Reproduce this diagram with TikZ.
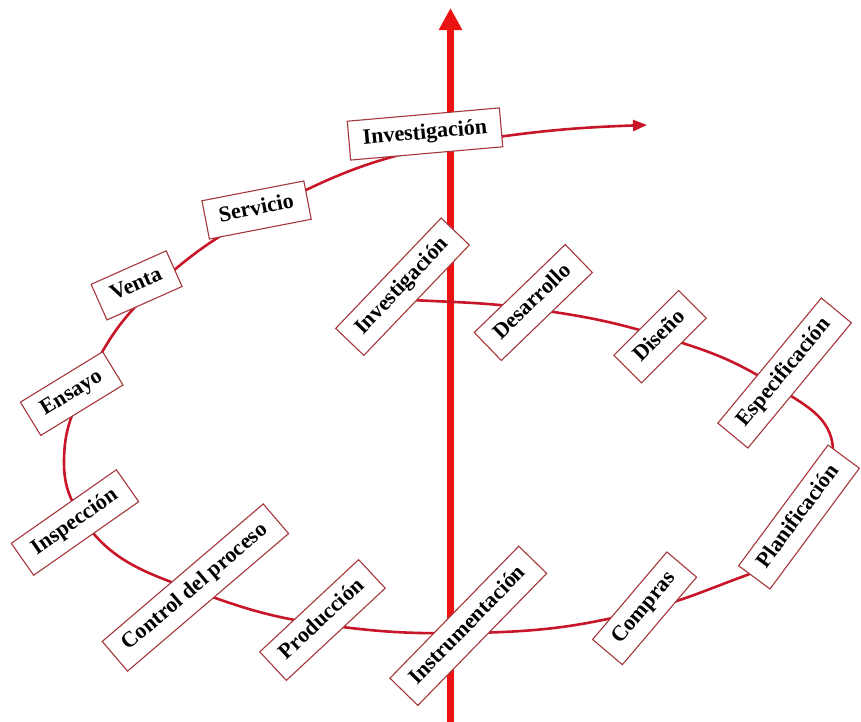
\documentclass[tikz,border=0pt]{standalone}
\usepackage{fontspec}
\setmainfont{Liberation Serif}
\usetikzlibrary{arrows.meta}
\definecolor{axisred}{RGB}{235,18,18}
\definecolor{spiralred}{RGB}{200,22,40}
\definecolor{boxred}{RGB}{165,55,60}
\begin{document}
\begin{tikzpicture}[x=1pt,y=1pt,
  stage/.style={draw=boxred, line width=1.1pt, fill=white, text=black,
    font=\fontsize{22}{24}\selectfont\bfseries, inner xsep=14pt, inner ysep=0pt,
    minimum height=39pt, text height=15pt, text depth=5pt},
  spiral/.style={draw=spiralred, line width=2.6pt},
  axisline/.style={draw=axisred, line width=7.5pt}]
\useasboundingbox (0,0) rectangle (861,-721);
% axis
\coordinate (axb) at (450.5,-725);
\coordinate (axt) at (450.5,-8);
\draw[axisline, -{Triangle[length=22pt,width=22pt]}] (axb) -- (axt);
% spiral waypoints
\coordinate (w0) at (412,-300);
\coordinate (w1) at (533,-309);
\coordinate (w2) at (660,-336);
\coordinate (w3) at (775,-386);
\coordinate (w4) at (833,-450);
\coordinate (w5) at (799,-517);
\coordinate (w6) at (747,-575);
\coordinate (w7) at (642,-611);
\coordinate (w8) at (468,-633);
\coordinate (w9) at (320,-624);
\coordinate (w10) at (193,-590);
\coordinate (w11) at (80,-515);
\coordinate (w12) at (64,-462);
\coordinate (w13) at (82,-392);
\coordinate (w14) at (152,-290);
\coordinate (w15) at (259,-214);
\coordinate (w16) at (458,-143);
\coordinate (w17) at (647,-125);
\draw[spiral, -{Triangle[length=14pt,width=11pt]}]
  (w0) to[out=-3,in=172] (w1) to[out=-8,in=163] (w2) to[out=-17,in=147] (w3)
  to[out=-33,in=92] (w4) to[out=-88,in=52] (w5) to[out=-128,in=20] (w6)
  to[out=200,in=14] (w7) to[out=194,in=1] (w8) to[out=181,in=-8] (w9)
  to[out=172,in=-20] (w10) to[out=160,in=-58] (w11) to[out=122,in=-90] (w12)
  to[out=90,in=-115] (w13) to[out=65,in=-137] (w14) to[out=43,in=-152] (w15)
  to[out=28,in=-171] (w16) to[out=9,in=182] (w17);
% stages
\node[stage, rotate=5]    (inv1)   at (425,-134)   {Investigación};
\node[stage, rotate=11]   (serv)   at (256.6,-210) {Servicio};
\node[stage, rotate=24]   (venta)  at (136.6,-285.4) {Venta};
\node[stage, rotate=31.5] (ensayo) at (71.7,-393.6) {Ensayo};
\node[stage, rotate=35]   (insp)   at (75,-522.5)  {Inspección};
\node[stage, rotate=40.5] (ctrl)   at (195.4,-587.5) {Control del proceso};
\node[stage, rotate=43]   (prod)   at (322.5,-620) {Producción};
\node[stage, rotate=45.7] (instr)  at (468.3,-625.8) {Instrumentación};
\node[stage, rotate=49.7] (compras) at (644.6,-608.3) {Compras};
\node[stage, rotate=53.5] (plan)   at (799,-517)   {Planificación};
\node[stage, rotate=50.4] (espec)  at (784.6,-373) {Especificación};
\node[stage, rotate=45]   (diseno) at (660,-336.7) {Diseño};
\node[stage, rotate=44]   (desarr) at (533.3,-302.5) {Desarrollo};
\node[stage, rotate=46.3] (inv2)   at (402.5,-286.7) {Investigación};
\end{tikzpicture}
\end{document}
